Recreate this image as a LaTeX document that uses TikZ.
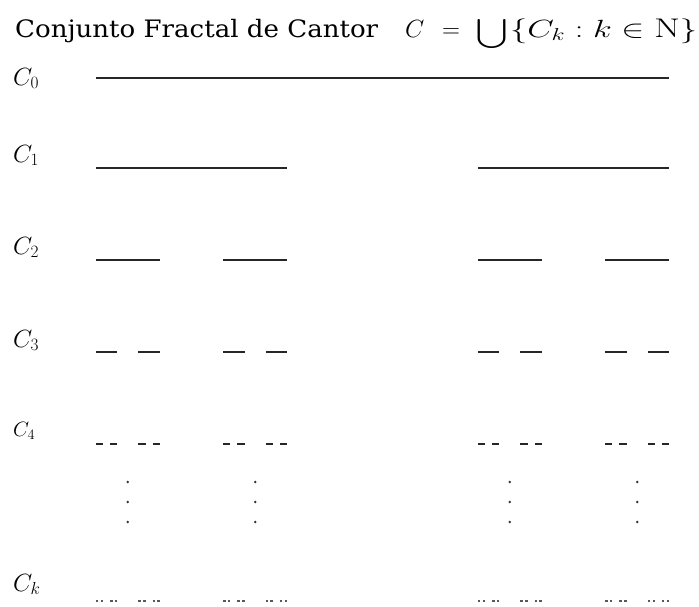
\documentclass[tikz,border=0pt]{standalone}
\usepackage{exscale}
\usepackage{fontspec}
\usepackage{graphicx}
\newfontfamily\titlefont{DejaVu Serif}
\makeatletter
\def\cantorseg#1#2#3#4{% start x, length, depth, y
  \ifnum#3=0\relax
    \draw[seg] (#1,#4) -- ++(#2,0);
  \else
    \pgfmathsetmacro\cantL{#2/3}%
    \pgfmathsetmacro\cantR{#1+2*#2/3}%
    \pgfmathtruncatemacro\cantD{#3-1}%
    \edef\cantNext{\noexpand\cantorseg{#1}{\cantL}{\cantD}{#4}\noexpand\cantorseg{\cantR}{\cantL}{\cantD}{#4}}%
    \cantNext
  \fi}
\makeatother
\begin{document}
\begin{tikzpicture}[x=1pt,y=-1pt,
  seg/.style={line width=1.8pt, draw=black!85},
  lab/.style={anchor=north west, inner sep=0pt, font=\fontsize{24}{24}\selectfont},
  fm/.style={anchor=base west, inner sep=0pt, font=\fontsize{27}{27}\selectfont},
  vdot/.style={fill=black!80, draw=none}]
\useasboundingbox (0,0) rectangle (699,606);
% title
\node[anchor=base west, inner sep=0pt] (title) at (15,37)
  {\resizebox{363pt}{\height}{\titlefont\fontsize{24}{24}\selectfont Conjunto Fractal de Cantor}};
\node[fm] (fC) at (405,37) {$C$};
\node[fm] (feq) at (442,37) {$=$};
\node[anchor=base, inner sep=0pt, font=\fontsize{20}{20}\selectfont] (funion) at (492,39)
  {\resizebox{31pt}{\height}{$\displaystyle\bigcup$}};
\node[fm] (fset) at (510,37) {\resizebox{187pt}{\height}{$\{C_k : k\in \mathrm{N}\}$}};
% row labels
\node[lab] (l0) at (13,68) {$C_0$};
\node[lab] (l1) at (13,145) {$C_1$};
\node[lab] (l2) at (13,237) {$C_2$};
\node[lab] (l3) at (13,330) {$C_3$};
\node[lab, font=\fontsize{21}{21}\selectfont] (l4) at (13,422) {$C_4$};
\node[lab] (lk) at (13,574) {$C_k$};
% Cantor levels
\cantorseg{96}{573}{0}{78}
\cantorseg{96}{573}{1}{168}
\cantorseg{96}{573}{2}{260}
\cantorseg{96}{573}{3}{352}
\begin{scope}[seg/.style={line width=1.5pt, draw=black!85}]
\cantorseg{96}{573}{4}{444}
\end{scope}
\begin{scope}[seg/.style={line width=1.5pt, draw=black!65}]
\cantorseg{96}{573}{5}{601}
\end{scope}
% vertical dots
\foreach \x in {127.8,255.2,509.8,637.2}{
  \foreach \y in {482,502,522}{
    \fill[vdot] (\x,\y) circle (1.4pt);
  }
}
\end{tikzpicture}
\end{document}
